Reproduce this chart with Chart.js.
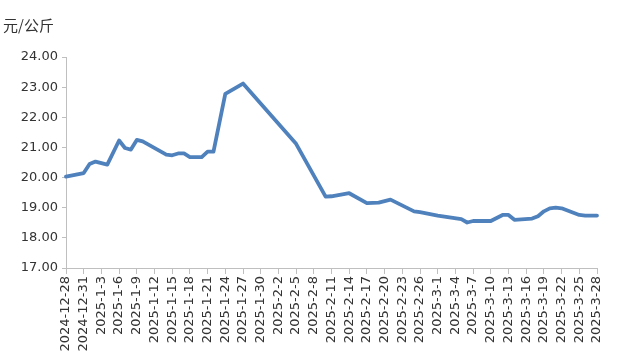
<!DOCTYPE html>
<html>
<head>
<meta charset="utf-8">
<script src="https://cdn.jsdelivr.net/npm/chart.js@4"></script>
<style>
  html, body { margin: 0; padding: 0; background: #fff; }
  #wrap { width: 626px; height: 364px; position: relative; }
</style>
</head>
<body>
<div id="wrap"><canvas id="chart-price"></canvas></div>
<script>
// ---- dữ liệu ----
const unitLabel = '元/公斤';
const firstDay = [2024, 12, 28];   // năm, tháng, ngày
const dayCount = 91;               // 2024-12-28 .. 2025-3-28
const labelEvery = 3;              // cứ 3 ngày một nhãn

const sampleDates = [
    '2024-12-28', '2024-12-31', '2025-1-1', '2025-1-2', '2025-1-4', '2025-1-6',
    '2025-1-7', '2025-1-8', '2025-1-9', '2025-1-10', '2025-1-14', '2025-1-15',
    '2025-1-16', '2025-1-17', '2025-1-18', '2025-1-20', '2025-1-21', '2025-1-22',
    '2025-1-24', '2025-1-27', '2025-2-5', '2025-2-10', '2025-2-11', '2025-2-14',
    '2025-2-17', '2025-2-19', '2025-2-21', '2025-2-25', '2025-2-26', '2025-3-1',
    '2025-3-5', '2025-3-6', '2025-3-7', '2025-3-10', '2025-3-12', '2025-3-13',
    '2025-3-14', '2025-3-17', '2025-3-18', '2025-3-19', '2025-3-20', '2025-3-21',
    '2025-3-22', '2025-3-25', '2025-3-26', '2025-3-28'
];
const sampleValues = [
    20.03, 20.15, 20.45, 20.53, 20.43, 21.23,
    20.98, 20.93, 21.25, 21.20, 20.76, 20.74,
    20.80, 20.80, 20.68, 20.68, 20.86, 20.86,
    22.78, 23.12, 21.12, 19.37, 19.38, 19.48,
    19.15, 19.17, 19.27, 18.88, 18.85, 18.74,
    18.62, 18.51, 18.56, 18.56, 18.76, 18.76,
    18.60, 18.64, 18.72, 18.88, 18.98, 19.00,
    18.98, 18.76, 18.74, 18.74
];
const yMin = 17;
const yMax = 24;
const yStep = 1;

// nhãn trục X (từng ngày, định dạng không có số 0 đứng đầu)
function buildDayLabels() {
    const out = [];
    const d = new Date(firstDay[0], firstDay[1] - 1, firstDay[2]);
    for (let i = 0; i < dayCount; i++) {
        out.push(`${d.getFullYear()}-${d.getMonth() + 1}-${d.getDate()}`);
        d.setDate(d.getDate() + 1);
    }
    return out;
}

const dayLabels = buildDayLabels();
const textColor = '#333333';
const axisColor = '#bfbfbf';

// vẽ đơn vị ở góc trên bên trái
const unitPlugin = {
    id: 'unitLabel',
    afterDraw(chart) {
        const ctx = chart.ctx;
        ctx.save();
        ctx.font = '15px "Noto Sans CJK SC", "DejaVu Sans", sans-serif';
        ctx.fillStyle = textColor;
        ctx.textBaseline = 'middle';
        ctx.textAlign = 'left';
        ctx.fillText(unitLabel, 3, 25);
        ctx.restore();
    }
};

new Chart(document.getElementById('chart-price').getContext('2d'), {
    type: 'line',
    data: {
        labels: dayLabels,
        datasets: [{
            label: '价格',
            data: sampleDates.map((d, i) => ({ x: d, y: sampleValues[i] })),
            borderColor: '#4f81bd',
            borderWidth: 3.8,
            borderJoinStyle: 'round',
            borderCapStyle: 'round',
            pointRadius: 0,
            tension: 0,
            fill: false
        }]
    },
    options: {
        responsive: true,
        maintainAspectRatio: false,
        animation: false,
        layout: { padding: { top: 57, right: 29, left: 0, bottom: 0 } },
        plugins: {
            legend: { display: false },
            tooltip: { enabled: false }
        },
        scales: {
            x: {
                type: 'category',
                offset: false,
                border: { display: true, color: axisColor, width: 1 },
                grid: { display: true, drawOnChartArea: false, tickLength: 6, color: axisColor },
                ticks: {
                    autoSkip: false,
                    maxRotation: 90,
                    minRotation: 90,
                    padding: 2,
                    color: textColor,
                    font: { family: '"DejaVu Sans", sans-serif', size: 13 },
                    callback: function (val, idx) {
                        return idx % labelEvery === 0 ? this.getLabelForValue(val) : null;
                    }
                },
                afterFit(scale) { scale.height = 96; }
            },
            y: {
                min: yMin,
                max: yMax,
                border: { display: true, color: axisColor, width: 1 },
                grid: { display: true, drawOnChartArea: false, tickLength: 4, color: axisColor },
                ticks: {
                    stepSize: yStep,
                    padding: 4,
                    color: textColor,
                    font: { family: '"DejaVu Sans", sans-serif', size: 13 },
                    callback: v => v.toFixed(2)
                },
                afterFit(scale) { scale.width = 66; }
            }
        }
    },
    plugins: [unitPlugin]
});
</script>
</body>
</html>
